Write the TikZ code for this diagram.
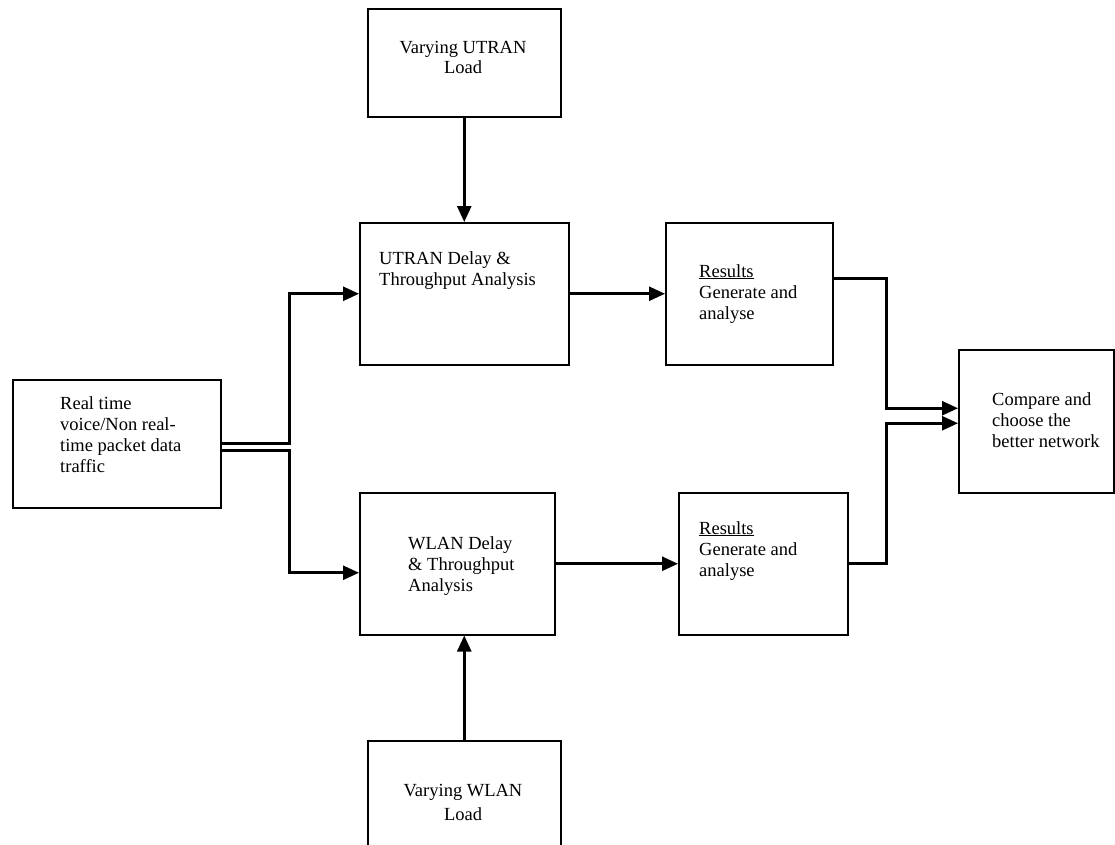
\documentclass[tikz,border=0pt]{standalone}
\usepackage{fontspec}
\setmainfont{Liberation Serif}
\usetikzlibrary{arrows.meta}

\tikzset{
  box/.style={draw, line width=1.5pt, inner sep=0pt, anchor=north west},
  txt/.style={anchor=north west, align=left, inner sep=0pt,
              font=\fontsize{18.5}{21}\selectfont},
  ctxt/.style={txt, anchor=north, align=center},
  flow/.style={line width=2.6pt, -{Triangle[length=16pt, width=14pt]}},
}

\begin{document}
\begin{tikzpicture}[x=1pt, y=-1pt]
  \clip (0,0) rectangle (1115,844);

  % Cajas
  \node[box, minimum width=193, minimum height=108] (lu)   at (367,8)   {};
  \node[box, minimum width=209, minimum height=142] (utran) at (359,222) {};
  \node[box, minimum width=167, minimum height=142] (resA) at (665,222) {};
  \node[box, minimum width=208, minimum height=128] (src)  at (12,379)  {};
  \node[box, minimum width=195, minimum height=142] (wlan) at (359,492) {};
  \node[box, minimum width=169, minimum height=142] (resB) at (678,492) {};
  \node[box, minimum width=155, minimum height=143] (cmp)  at (958,349) {};
  \node[box, minimum width=193, minimum height=130] (wl)   at (367,740) {};

  % Textos
  \node[ctxt, font=\fontsize{18.5}{20.5}\selectfont] (lutxt) at (463,41) {Varying UTRAN\\Load};
  \node[txt] (utrantxt) at (379,251) {UTRAN Delay \&\\Throughput Analysis};
  \node[txt] (resAtxt) at (699,264) {\underline{Results}\\Generate and\\analyse};
  \node[txt] (srctxt) at (60,396) {Real time\\voice/Non real-\\time packet data\\traffic};
  \node[txt] (wlantxt) at (408,536) {WLAN Delay\\\& Throughput\\Analysis};
  \node[txt] (resBtxt) at (699,521) {\underline{Results}\\Generate and\\analyse};
  \node[txt] (cmptxt) at (992,392) {Compare and\\choose the\\better network};
  \node[ctxt, font=\fontsize{18.5}{24}\selectfont] (wltxt) at (463,784) {Varying WLAN\\Load};

  % Conexiones
  \draw[flow] (lu.south) -- (utran.north);
  \draw[flow] (wl.north) -- (wl.north |- wlan.south);
  \draw[flow] (src.east) -- ++(68,0) |- (utran.west);
  \draw[flow] ([yshift=-7pt]src.east) -- ++(68,0) |- ([yshift=-9pt]wlan.west);
  \draw[flow] (utran.east) -- (resA.west);
  \draw[flow] (wlan.east) -- (resB.west);
  \draw[flow] ([yshift=15pt]resA.east) -- ++(53,0) |- ([yshift=13pt]cmp.west);
  \draw[flow] (resB.east) -- ++(38,0) |- ([yshift=-2pt]cmp.west);
\end{tikzpicture}
\end{document}
